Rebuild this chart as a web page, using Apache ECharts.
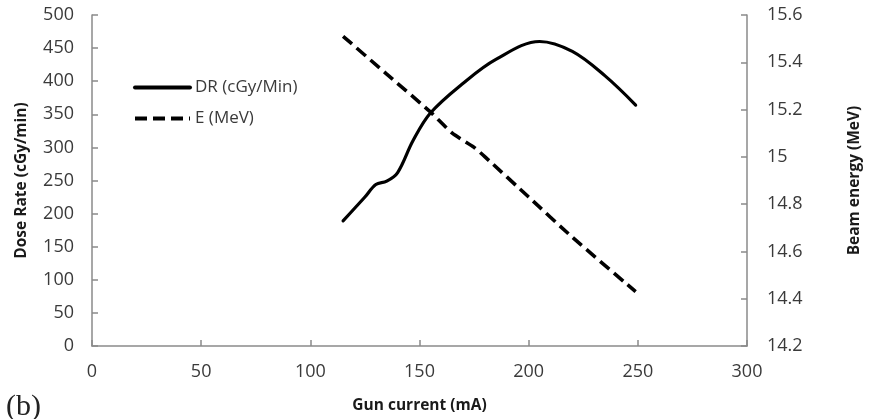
<!DOCTYPE html>
<html>
<head>
<meta charset="utf-8">
<script src="https://cdn.jsdelivr.net/npm/echarts@6/dist/echarts.min.js"></script>
<style>
  html, body { margin: 0; padding: 0; background: #fff; }
  #chart { width: 871px; height: 419px; }
</style>
</head>
<body>
<div id="chart"></div>
<script>
// gun current (mA) vs dose rate (cGy/min)
const drCurrent = [115, 125, 130, 135, 140, 147, 155, 170, 185, 205, 220, 235, 249]
const drValues = [189, 225, 244, 249, 262, 310, 352, 397, 433, 460, 445, 408, 364]

// gun current (mA) vs beam energy (MeV)
const eCurrent = [115, 135, 155, 165, 175, 180, 200, 220, 249]
const eValues = [15.51, 15.35, 15.19, 15.10, 15.04, 15.0, 14.83, 14.66, 14.43]

const xTicks = [0, 300, 50]
const drTicks = [0, 500, 50]
const eTicks = [14.2, 15.6, 0.2]

const axisColor = '#8a8a8a'
const textColor = '#3a3a3a'
const font = 'Open Sans'

const chart = echarts.init(document.getElementById('chart'))

const zip = (xs, ys) => xs.map((x, i) => [x, ys[i]])

const nameStyle = { fontFamily: font, fontSize: 15.5, fontWeight: 'bold', color: '#1a1a1a' }
const labelStyle = { fontFamily: font, fontSize: 18, color: textColor }
const lineOpts = { show: true, lineStyle: { color: axisColor, width: 1.5 } }
const tickOpts = { show: true, inside: true, length: 6, lineStyle: { color: axisColor, width: 1.5 } }

chart.setOption({
  animation: false,
  backgroundColor: '#fff',
  grid: { left: 92, right: 117, top: 15, bottom: 72 },
  legend: {
    orient: 'vertical',
    left: 128,
    top: 74,
    itemWidth: 55,
    itemHeight: 14,
    itemGap: 14,
    data: ['DR (cGy/Min)', 'E (MeV)'],
    itemStyle: { opacity: 0, borderWidth: 0 },
    lineStyle: { width: 4 },
    textStyle: { fontFamily: font, fontSize: 17, color: textColor }
  },
  graphic: [{
    type: 'text',
    left: 6,
    top: 392,
    style: { text: '(b)', font: '30px "Liberation Serif"', fill: '#222' }
  }],
  xAxis: {
    type: 'value',
    min: xTicks[0], max: xTicks[1], interval: xTicks[2],
    name: 'Gun current (mA)',
    nameLocation: 'middle',
    nameGap: 52,
    nameTextStyle: nameStyle,
    axisLine: lineOpts,
    axisTick: tickOpts,
    axisLabel: Object.assign({ margin: 17 }, labelStyle),
    splitLine: { show: false }
  },
  yAxis: [{
    type: 'value',
    min: drTicks[0], max: drTicks[1], interval: drTicks[2],
    name: 'Dose Rate (cGy/min)',
    nameLocation: 'middle',
    nameRotate: 90,
    nameGap: 62,
    nameTextStyle: nameStyle,
    axisLine: lineOpts,
    axisTick: tickOpts,
    axisLabel: Object.assign({ margin: 18 }, labelStyle),
    splitLine: { show: false }
  }, {
    type: 'value',
    position: 'right',
    min: eTicks[0], max: eTicks[1], interval: eTicks[2],
    name: 'Beam energy (MeV)',
    nameLocation: 'middle',
    nameRotate: 90,
    nameGap: 100,
    nameTextStyle: nameStyle,
    axisLine: lineOpts,
    axisTick: tickOpts,
    axisLabel: Object.assign({
      margin: 20,
      formatter: v => String(+v.toFixed(1))
    }, labelStyle),
    splitLine: { show: false }
  }],
  series: [{
    name: 'DR (cGy/Min)',
    type: 'line',
    yAxisIndex: 0,
    smooth: 0.35,
    symbol: 'none',
    data: zip(drCurrent, drValues),
    lineStyle: { color: '#000', width: 3.2, cap: 'round' },
    itemStyle: { color: '#000' }
  }, {
    name: 'E (MeV)',
    type: 'line',
    yAxisIndex: 1,
    smooth: 0.2,
    symbol: 'none',
    data: zip(eCurrent, eValues),
    lineStyle: { color: '#000', width: 3.6, type: [12, 6], cap: 'butt' },
    itemStyle: { color: '#000' }
  }]
})
</script>
</body>
</html>
